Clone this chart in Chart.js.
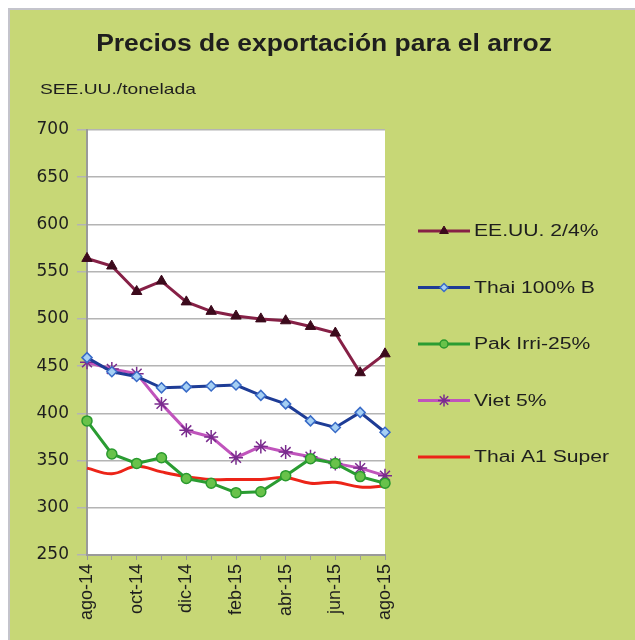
<!DOCTYPE html>
<html>
<head>
<meta charset="utf-8">
<script src="https://cdn.jsdelivr.net/npm/chart.js@4.4.1/dist/chart.umd.min.js"></script>
<style>
  html, body { margin: 0; padding: 0; background: #fff; }
  canvas { display: block; }
</style>
</head>
<body>
<canvas id="rice" width="635" height="640"></canvas>
<script>
// meses (eje x)
const months = ['ago-14', 'sep-14', 'oct-14', 'nov-14', 'dic-14', 'ene-15', 'feb-15',
                'mar-15', 'abr-15', 'may-15', 'jun-15', 'jul-15', 'ago-15'];

// precios en $EE.UU./tonelada
const eeuu    = [564, 556, 529, 540, 518, 508, 503, 500, 498, 492, 485, 443, 463];
const thai100 = [459, 444, 439, 427, 428, 429, 430, 419, 410, 392, 385, 401, 380];
const pakIrri = [392, 357, 347, 353, 331, 326, 316, 317, 334, 352, 347, 333, 326];
const viet5   = [454, 447, 442, 410, 382, 375, 353, 365, 359, 354, 347, 342, 334];
const thaiA1  = [342, 336, 344, 338, 333, 330, 330, 330, 332, 326, 327, 322, 323];

const yMin = 250, yMax = 700, yStep = 50;

const FONT = "'Liberation Sans', Arial, sans-serif";
const TEXT = '#1e1e1e';

const helpers = Chart.helpers;

// texto estirado en horizontal (la imagen original esta algo ensanchada)
function wideText(ctx, txt, x, y, sx, align) {
  ctx.save();
  ctx.translate(x, y);
  ctx.scale(sx, 1);
  ctx.textAlign = align;
  ctx.fillText(txt, 0, 0);
  ctx.restore();
}

// fondo, titulo y leyenda
const decor = {
  id: 'decor',
  beforeDraw(chart) {
    const { ctx, chartArea: a } = chart;
    ctx.save();
    ctx.fillStyle = '#fff';
    ctx.fillRect(0, 0, chart.width, chart.height);
    ctx.fillStyle = '#c7d776';
    ctx.fillRect(9, 9, chart.width - 9, chart.height - 9);
    ctx.strokeStyle = '#c4c4cc';
    ctx.lineWidth = 2;
    ctx.beginPath();
    ctx.moveTo(9, chart.height);
    ctx.lineTo(9, 9);
    ctx.lineTo(chart.width, 9);
    ctx.stroke();
    ctx.fillStyle = '#fff';
    ctx.fillRect(a.left, a.top, a.right - a.left, a.bottom - a.top);
    ctx.restore();
  },
  afterDraw(chart) {
    const ctx = chart.ctx;
    ctx.save();
    ctx.fillStyle = TEXT;
    ctx.textBaseline = 'middle';
    ctx.font = 'bold 23px ' + FONT;
    wideText(ctx, 'Precios de exportación para el arroz', 324, 45, 1.15, 'center');
    ctx.font = '15px ' + FONT;
    wideText(ctx, 'SEE.UU./tonelada', 40, 90, 1.28, 'left');

    // leyenda
    chart.data.datasets.forEach((ds, i) => {
      const y = 231 + i * 56.5;
      ctx.strokeStyle = ds.borderColor;
      ctx.lineWidth = ds.borderWidth;
      ctx.beginPath();
      ctx.moveTo(418, y);
      ctx.lineTo(470, y);
      ctx.stroke();
      if (ds.pointRadius > 0) {
        ctx.fillStyle = ds.pointBackgroundColor;
        ctx.strokeStyle = ds.pointBorderColor;
        ctx.lineWidth = ds.pointBorderWidth;
        helpers.drawPoint(ctx, {
          pointStyle: ds.pointStyle, radius: ds.pointRadius - 1,
          borderWidth: ds.pointBorderWidth, rotation: 0
        }, 444, y);
      }
      ctx.fillStyle = TEXT;
      ctx.font = '16px ' + FONT;
      wideText(ctx, ds.label, 474, y + 1, 1.32, 'left');
    });
    ctx.restore();
  }
};

new Chart('rice', {
  type: 'line',
  data: {
    labels: months,
    datasets: [
      {
        label: 'EE.UU. 2/4%', data: eeuu,
        borderColor: '#862046', borderWidth: 3, tension: 0,
        pointStyle: 'triangle', pointRadius: 6,
        pointBackgroundColor: '#3c0a1c', pointBorderColor: '#3c0a1c', pointBorderWidth: 1
      },
      {
        label: 'Thai 100% B', data: thai100,
        borderColor: '#1e3c96', borderWidth: 3, tension: 0,
        pointStyle: 'rectRot', pointRadius: 5,
        pointBackgroundColor: '#a6d0f4', pointBorderColor: '#3a6cc8', pointBorderWidth: 1.5
      },
      {
        label: 'Pak Irri-25%', data: pakIrri,
        borderColor: '#2a9c32', borderWidth: 3, tension: 0,
        pointStyle: 'circle', pointRadius: 5,
        pointBackgroundColor: '#68c24a', pointBorderColor: '#2a9a2e', pointBorderWidth: 1.5
      },
      {
        label: 'Viet 5%', data: viet5,
        borderColor: '#c054bc', borderWidth: 3, tension: 0,
        pointStyle: 'star', pointRadius: 7,
        pointBackgroundColor: '#7a2c8e', pointBorderColor: '#7a2c8e', pointBorderWidth: 1.5
      },
      {
        label: 'Thai A1 Super', data: thaiA1,
        borderColor: '#ec2418', borderWidth: 3, tension: 0.4,
        pointRadius: 0
      }
    ]
  },
  options: {
    responsive: false,
    animation: false,
    devicePixelRatio: 1,
    layout: { padding: { top: 130, right: 250, left: 0, bottom: 0 } },
    plugins: {
      legend: { display: false },
      title: { display: false },
      tooltip: { enabled: false }
    },
    scales: {
      y: {
        min: yMin, max: yMax,
        afterFit: s => { s.width = 87; },
        ticks: {
          stepSize: yStep, padding: 8, color: TEXT,
          font: { family: "'DejaVu Sans', sans-serif", size: 17 }
        },
        grid: { color: '#b4b4b4', lineWidth: 1.5, tickLength: 10 },
        border: { color: '#9a9a9a', width: 2 }
      },
      x: {
        afterFit: s => { s.height = 85; },
        ticks: {
          autoSkip: false, maxRotation: 90, minRotation: 90, padding: 4,
          color: TEXT, font: { family: FONT, size: 18 },
          callback: (v, i) => (i % 2 === 0 ? months[i] : '')
        },
        grid: { drawOnChartArea: false, color: '#9a9a9a', tickLength: 5 },
        border: { color: '#9a9a9a', width: 2 }
      }
    }
  },
  plugins: [decor]
});
</script>
</body>
</html>
